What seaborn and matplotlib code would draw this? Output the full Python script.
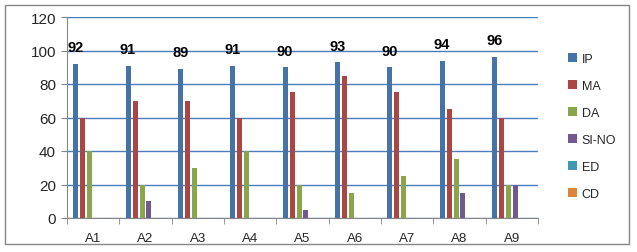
import matplotlib
matplotlib.use("Agg")
import matplotlib.pyplot as plt
import seaborn as sns
import pandas as pd
from matplotlib.patches import Rectangle
from matplotlib.ticker import FixedLocator

categories = ["A1", "A2", "A3", "A4", "A5", "A6", "A7", "A8", "A9"]
series = ["IP", "MA", "DA", "SI-NO", "ED", "CD"]
ip = [92, 91, 89, 91, 90, 93, 90, 94, 96]
ma = [60, 70, 70, 60, 75, 85, 75, 65, 60]
da = [40, 20, 30, 40, 20, 15, 25, 35, 20]
si_no = [0, 10, 0, 0, 5, 0, 0, 15, 20]
ed = [0, 0, 0, 0, 0, 0, 0, 0, 0]
cd = [0, 0, 0, 0, 0, 0, 0, 0, 0]
colors = ["#4572A7", "#AA4643", "#89A54E", "#71588F", "#4198AF", "#DB843D"]

values = [ip, ma, da, si_no, ed, cd]
rows = []
for s, vals in zip(series, values):
    for c, v in zip(categories, vals):
        rows.append({"cat": c, "series": s, "value": v})
df = pd.DataFrame(rows)

sns.set_style("white")
plt.rcParams["font.family"] = ["Liberation Sans", "DejaVu Sans"]

fig = plt.figure(figsize=(6.37, 2.53), dpi=100)
ax = fig.add_axes([67/637, 1-219/253, (538-67)/637, (219-18)/253])

sns.barplot(data=df, x="cat", y="value", hue="series", order=categories,
            hue_order=series, palette=colors, width=0.8, ax=ax,
            errorbar=None, saturation=1, legend=False, zorder=3)

# shrink bars to leave small gaps, keep centers
for p in ax.patches:
    w = p.get_width()
    nw = w * 5/7
    p.set_x(p.get_x() + (w - nw)/2)
    p.set_width(nw)
    p.set_linewidth(0)

# data labels on IP
ax.bar_label(ax.containers[0], labels=[str(v) for v in ip], padding=7,
             fontsize=10.5, fontweight="bold", color="black")

ax.set_ylim(0, 120)
ax.set_xlim(-0.5, len(categories) - 0.5)
ax.set_yticks(range(0, 121, 20))
ax.yaxis.grid(True, color="#4A7EBB", linewidth=1)
ax.set_axisbelow(True)
ax.set_xlabel("")
ax.set_ylabel("")
for s in ["top", "right"]:
    ax.spines[s].set_visible(False)
ax.spines["left"].set_color("#868686")
ax.spines["bottom"].set_color("#868686")
ax.tick_params(axis="y", labelsize=11, length=4, color="#868686", pad=4, direction="out", left=True)
ax.tick_params(axis="x", which="major", labelsize=9.5, length=0, pad=10)
ax.xaxis.set_minor_locator(FixedLocator([i - 0.5 for i in range(len(categories) + 1)]))
ax.tick_params(axis="x", which="minor", length=4, color="#868686", direction="out", bottom=True)

handles = [Rectangle((0, 0), 1, 1, facecolor=c, edgecolor="none") for c in colors]
fig.legend(handles, series, loc="upper left", bbox_to_anchor=(563/637, 1-49/253),
           frameon=False, fontsize=9, handlelength=0.7, handleheight=0.7,
           handletextpad=0.4, labelspacing=1.2, borderaxespad=0)

fig.patches.append(Rectangle((5/637, 1-245/253), 624/637, 239/253,
                             transform=fig.transFigure, fill=False,
                             edgecolor="#868686", linewidth=1))

fig.savefig("out.png", dpi=100)
